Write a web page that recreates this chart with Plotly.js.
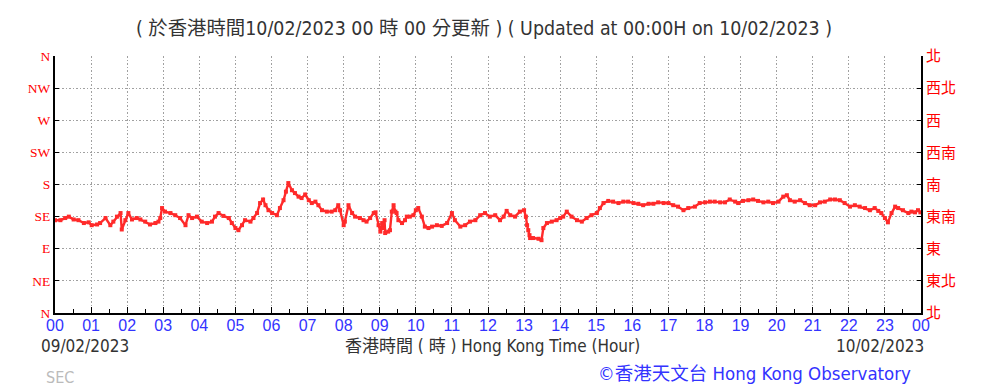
<!DOCTYPE html>
<html>
<head>
<meta charset="utf-8">
<script src="https://cdn.plot.ly/plotly-3.0.1.min.js"></script>
<style>html,body{margin:0;padding:0;background:#fff;}#chart{width:983px;height:388px;}</style>
</head>
<body>
<div id="chart"></div>
<script>
// Time of reading, minutes after 00:00 on 09/02/2023
const minutes = [0,9,17,23,31,39,48,56,61,70,75,84,92,97,103,109,111,117,122,128,136,142,150,158,167,172,175,178,183,192,200,208,217,222,228,236,244,253,261,266,272,280,289,294,300,305,311,316,325,330,336,341,346,350,355,361,369,374,380,384,388,394,399,405,410,416,422,427,433,438,444,452,460,466,471,474,480,482,488,494,499,507,513,518,524,530,533,538,541,544,546,548,549,554,557,560,563,566,568,571,577,582,585,590,596,600,604,610,615,621,627,635,643,652,660,665,674,682,690,699,707,715,723,732,740,746,751,757,765,773,780,783,785,787,789,790,795,804,809,812,818,826,834,840,845,851,859,868,876,884,892,901,906,912,920,928,937,945,953,962,970,978,987,995,1003,1012,1020,1028,1036,1045,1053,1064,1072,1081,1089,1097,1106,1114,1122,1131,1136,1144,1153,1161,1169,1178,1186,1194,1203,1211,1217,1222,1230,1239,1247,1255,1264,1272,1280,1289,1297,1305,1313,1322,1330,1338,1347,1355,1363,1369,1374,1380,1385,1391,1397,1402,1410,1419,1424,1430,1435,1439];
// Wind direction, degrees
const direction = [130,130,133,135,131,130,126,127,123,124,126,133,123,128,135,140,117,130,140,131,133,131,128,124,126,128,133,147,142,140,137,133,123,137,133,135,128,126,128,135,140,136,133,126,119,116,123,130,128,133,140,154,159,151,144,140,137,147,158,170,182,172,168,163,161,166,158,154,156,151,144,142,142,144,151,144,123,128,151,140,135,133,130,128,133,140,141,123,114,126,119,130,112,114,116,142,151,142,140,130,126,130,135,135,137,144,147,135,121,119,121,123,122,126,140,130,121,123,128,130,137,140,135,137,130,135,143,137,135,142,144,135,123,116,109,105,105,104,102,119,126,128,130,133,135,142,135,130,128,133,137,140,147,154,157,156,154,156,156,154,153,151,153,153,155,154,154,151,149,144,147,149,154,155,156,156,155,155,159,156,154,157,158,159,157,155,156,154,156,163,165,158,156,158,154,151,151,155,156,159,159,158,154,149,151,149,147,144,147,143,140,133,127,140,149,147,144,140,142,141,144,141];

const hourTicks = [0,60,120,180,240,300,360,420,480,540,600,660,720,780,840,900,960,1020,1080,1140,1200,1260,1320,1380,1440];
const hourLabels = ['00','01','02','03','04','05','06','07','08','09','10','11','12','13','14','15','16','17','18','19','20','21','22','23','00'];
const dirTicks = [0,45,90,135,180,225,270,315,360];
const dirLabelsEn = ['N','NE','E','SE','S','SW','W','NW','N'];
const dirLabelsZh = ['北','東北','東','東南','南','西南','西','西北','北'];

const red = '#ff2a2a';
const traces = [
  {x: minutes, y: direction, type: 'scatter', mode: 'lines+markers',
   line: {color: red, width: 2.4}, marker: {color: red, size: 4, symbol: 'square'},
   hoverinfo: 'skip', showlegend: false},
  {x: minutes, y: direction, type: 'scatter', mode: 'markers', yaxis: 'y2',
   marker: {opacity: 0}, hoverinfo: 'skip', showlegend: false}
];

const plotL = 55, plotR = 921, plotT = 56, plotB = 313;
const W = 983, H = 388;
const px = v => (v - plotL) / (plotR - plotL);
const py = v => (plotB - v) / (plotB - plotT);
const sans = 'Liberation Sans Narrow, DejaVu Sans Condensed, Liberation Sans, Noto Sans CJK TC, sans-serif';
const gridDash = '1.5px,2px';

const layout = {
  width: W, height: H,
  margin: {l: plotL, r: W - plotR, t: plotT, b: H - plotB},
  paper_bgcolor: '#fff', plot_bgcolor: '#fff',
  title: {text: '( 於香港時間10/02/2023 00 時 00 分更新 ) ( Updated at 00:00H on 10/02/2023 )',
          x: px(484), xref: 'paper', xanchor: 'center', y: 1 - 28 / H, yref: 'container', yanchor: 'middle',
          font: {family: sans, size: 19.4, color: '#333'}},
  xaxis: {range: [0, 1440], tickvals: hourTicks, ticktext: hourLabels, showgrid: true,
          gridcolor: '#a0a0a0', griddash: gridDash, gridwidth: 1,
          showline: true, linecolor: '#000', linewidth: 2, ticks: 'inside', ticklen: 6, tickcolor: '#000',
          minor: {tick0: 0, dtick: 30, ticks: 'inside', ticklen: 4, tickcolor: '#000', showgrid: false},
          tickfont: {family: 'Liberation Sans, Arial, sans-serif', size: 16, color: '#3333ff'},
          ticklabelstandoff: -3,
          zeroline: false, fixedrange: true},
  yaxis: {range: [0, 360], tickvals: dirTicks, ticktext: dirLabelsEn, showgrid: true,
          gridcolor: '#a0a0a0', griddash: gridDash, gridwidth: 1,
          showline: true, linecolor: '#000', linewidth: 2, ticks: 'inside', ticklen: 4, tickcolor: '#000',
          tickfont: {family: 'Liberation Serif, DejaVu Serif, serif', size: 13.5, color: '#ff0000'},
          zeroline: false, fixedrange: true},
  yaxis2: {range: [0, 360], tickvals: dirTicks, ticktext: dirLabelsZh, overlaying: 'y', side: 'right',
           showgrid: false, showline: true, linecolor: '#000', linewidth: 2, ticks: 'inside', ticklen: 4,
           tickcolor: '#000', tickfont: {family: 'Noto Sans CJK TC, sans-serif', size: 15, color: '#ff0000'},
           zeroline: false, fixedrange: true},
  annotations: [
    {text: '09/02/2023', xref: 'paper', yref: 'paper', x: px(39), y: py(346), xanchor: 'left', yanchor: 'middle',
     showarrow: false, font: {family: sans, size: 17, color: '#333'}},
    {text: '香港時間 ( 時 ) Hong Kong Time (Hour)', xref: 'paper', yref: 'paper', x: px(492), y: py(346), xanchor: 'center', yanchor: 'middle',
     showarrow: false, font: {family: sans, size: 17, color: '#333'}},
    {text: '10/02/2023', xref: 'paper', yref: 'paper', x: px(926), y: py(346), xanchor: 'right', yanchor: 'middle',
     showarrow: false, font: {family: sans, size: 17, color: '#333'}},
    {text: 'SEC', xref: 'paper', yref: 'paper', x: px(44), y: py(377), xanchor: 'left', yanchor: 'middle',
     showarrow: false, font: {family: sans, size: 16, color: '#bbbbbb'}},
    {text: '©香港天文台 Hong Kong Observatory', xref: 'paper', yref: 'paper', x: px(913), y: py(373), xanchor: 'right', yanchor: 'middle',
     showarrow: false, font: {family: sans, size: 18.5, color: '#3333ff'}}
  ]
};

Plotly.newPlot('chart', traces, layout, {displayModeBar: false, staticPlot: true});
</script>
</body>
</html>
